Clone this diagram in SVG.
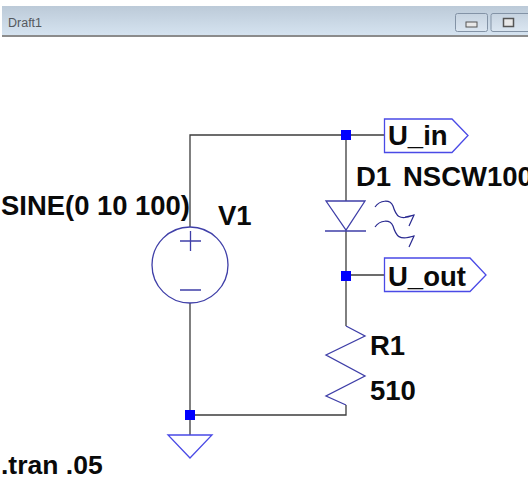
<svg xmlns="http://www.w3.org/2000/svg" width="528" height="489" viewBox="0 0 528 489">
<defs>
<linearGradient id="bar" x1="0" y1="0" x2="0" y2="1"><stop offset="0" stop-color="#bccad8"/><stop offset="1" stop-color="#d5e3f0"/></linearGradient>
<linearGradient id="btn" x1="0" y1="0" x2="0" y2="1"><stop offset="0" stop-color="#c6d3e0"/><stop offset="1" stop-color="#dbe6f1"/></linearGradient>
</defs>
<style>
.w{fill:none;stroke:#3c3c3c;stroke-width:1.3}
.s{fill:none;stroke:#3f3fa8;stroke-width:1.3}
.f{fill:none;stroke:#2a2a90;stroke-width:1.2}
.p{fill:#fff;stroke:#4a4ae6;stroke-width:1.3}
.j{fill:#0000ff}
text{font-family:"Liberation Sans",Arial,sans-serif;font-weight:700;font-size:27.500px;fill:#0a0a0a}
.b{fill:url(#btn);stroke:#8393a6;stroke-width:1}
</style>
<rect width="528" height="489" fill="#fff"/>
<g id="titlebar">
<rect x="2" y="6" width="526" height="29" fill="url(#bar)"/>
<rect x="2" y="35" width="526" height="2" fill="#8c8c8c"/>
<text x="8" y="27" style="font-size:12.500px;font-weight:400;fill:#55595e">Draft1</text>
<rect class="b" x="455.500" y="13.500" width="32" height="18" rx="2"/>
<rect x="466" y="22" width="11" height="5" fill="#e8e8e8" stroke="#555" stroke-width="1"/>
<path class="b" d="M528 13.500H493a2 2 0 0 0-2 2V29.500a2 2 0 0 0 2 2H528"/>
<rect x="503.500" y="18.500" width="10" height="8" fill="#e8e8e8" stroke="#555" stroke-width="1.500"/>
</g>
<g id="connectors">
<path class="w" d="M190 227V135H346M346 135H384M346 135V201M346 231V326M346 275H384M190 303V435M190 415H346V405"/>
</g>
<g id="V1">
<circle class="s" cx="190" cy="265" r="38"/>
<path class="s" d="M180 241H201M190.500 231V251M180 290H201"/>
<text x="218" y="225">V1</text>
<text x="1" y="215" textLength="189" lengthAdjust="spacingAndGlyphs">SINE(0 10 100)</text>
</g>
<g id="D1">
<path class="s" d="M326 201H365L346 230ZM325 231H366"/>
<path class="f" d="M375 207C380 200 390 199 393 206C396 216 399 221 414 215M405 217L414 215L409 226"/>
<path class="f" d="M375 227C380 220 390 219 393 226C396 236 399 241 414 236M405 238L414 236L409 247"/>
<text x="356" y="186">D1</text>
<text x="403" y="186">NSCW100</text>
</g>
<g id="R1">
<path class="s" d="M346 326L365 336L326 355L365 376L326 396L346 405"/>
<text x="370" y="355">R1</text>
<text x="370" y="400">510</text>
</g>
<g id="GND"><path class="p" d="M168 435H212L190 458Z"/></g>
<g id="U_in"><path class="p" d="M384.500 119H452L468 135.500L452 152.500H384.500Z"/><text x="388" y="145">U_in</text></g>
<g id="U_out"><path class="p" d="M384.500 258H470L486 275L470 291.500H384.500Z"/><text x="388" y="286">U_out</text></g>
<g id="junctions">
<rect class="j" x="341" y="130" width="10" height="10"/>
<rect class="j" x="341" y="271" width="10" height="10"/>
<rect class="j" x="185" y="410" width="10" height="10"/>
</g>
<g id="directive"><text x="1" y="474" style="font-size:26.500px">.tran .05</text></g>
</svg>
